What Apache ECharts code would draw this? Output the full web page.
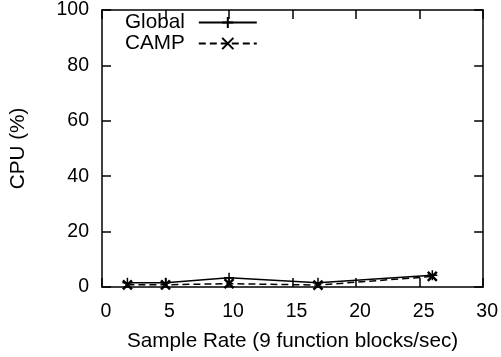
<!DOCTYPE html>
<html><head><meta charset="utf-8">
<script src="https://cdn.jsdelivr.net/npm/echarts@6/dist/echarts.min.js"></script>
<style>html,body{margin:0;padding:0;background:#fff}#c{width:501px;height:357px}</style>
</head><body><div id="c"></div>
<script>
const sampleRates = [2, 5, 10, 17, 26];
const globalCpu = [1.5, 1.5, 3.3, 1.5, 4.2];
const campCpu = [0.8, 0.8, 1.2, 0.7, 3.8];
const seriesNames = ['Global', 'CAMP'];
const xAxisName = 'Sample Rate (9 function blocks/sec)';
const yAxisName = 'CPU (%)';

const FONT = 'Liberation Sans';
const plusPath = 'path://M5,0L5,10M0,5L10,5';
const crossPath = 'path://M0,0L10,10M10,0L0,10';

const chart = echarts.init(document.getElementById('c'), null, {renderer: 'canvas'});
const axisCommon = {
  axisLine: {show: true, onZero: false, lineStyle: {color: '#000', width: 1.5}},
  axisTick: {show: true, inside: true, length: 9, lineStyle: {color: '#000', width: 1.5}},
  splitLine: {show: false}
};
chart.setOption({
  animation: false,
  grid: {left: 97, right: 14, top: 5, bottom: 70, show: false},
  legend: {
    left: 125, top: 12, padding: 0, orient: 'vertical', align: 'right',
    itemWidth: 58, itemHeight: 14, itemGap: 0,
    textStyle: {fontFamily: FONT, fontSize: 20.7, color: '#000', width: 58, padding: [0, 9, 0, 0], lineHeight: 20},
    data: seriesNames
  },
  xAxis: [
    Object.assign({type: 'value', min: 0, max: 30, interval: 5, position: 'bottom',
      name: xAxisName, nameLocation: 'middle', nameGap: 44,
      nameTextStyle: {fontFamily: FONT, fontSize: 20.7, color: '#000'},
      axisLabel: {fontFamily: FONT, fontSize: 19.5, color: '#000', margin: 15, padding: [0, 0, 0, 8]}}, axisCommon),
    Object.assign({type: 'value', min: 0, max: 30, interval: 5, position: 'top',
      axisLabel: {show: false}}, axisCommon)
  ],
  yAxis: [
    Object.assign({type: 'value', min: 0, max: 100, interval: 20, position: 'left',
      name: yAxisName, nameLocation: 'middle', nameGap: 73,
      nameTextStyle: {fontFamily: FONT, fontSize: 20.7, color: '#000'},
      axisLabel: {fontFamily: FONT, fontSize: 19.5, color: '#000', margin: 13}}, axisCommon),
    Object.assign({type: 'value', min: 0, max: 100, interval: 20, position: 'right',
      axisLabel: {show: false}}, axisCommon)
  ],
  series: [
    {
      name: seriesNames[0], type: 'line',
      data: sampleRates.map((x, i) => [x, globalCpu[i]]),
      symbol: plusPath, symbolSize: 10,
      itemStyle: {color: 'rgba(0,0,0,0)', borderColor: '#000', borderWidth: 1.5},
      lineStyle: {color: '#000', width: 1.5, type: 'solid'}
    },
    {
      name: seriesNames[1], type: 'line',
      data: sampleRates.map((x, i) => [x, campCpu[i]]),
      symbol: crossPath, symbolSize: 9,
      itemStyle: {color: 'rgba(0,0,0,0)', borderColor: '#000', borderWidth: 2.5},
      lineStyle: {color: '#000', width: 1.5, type: [7, 4]}
    }
  ]
});
</script></body></html>
